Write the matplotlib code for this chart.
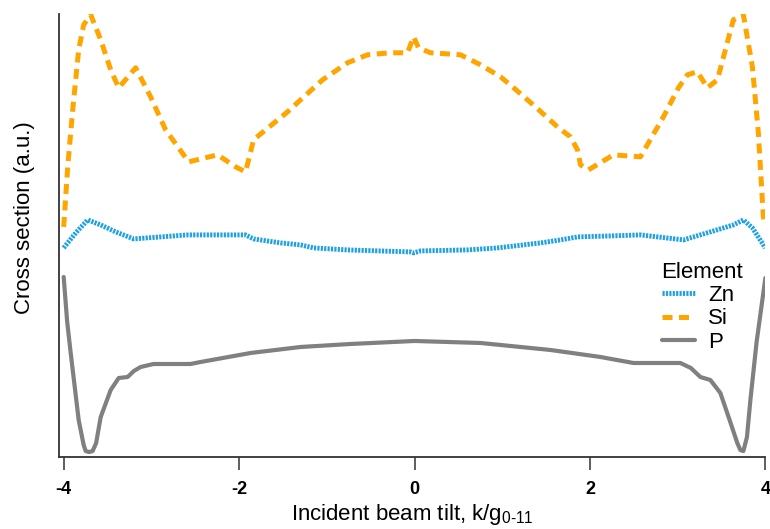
import matplotlib
matplotlib.use("Agg")
import matplotlib.pyplot as plt

plt.rcParams['font.family'] = ['Liberation Sans', 'DejaVu Sans']
plt.rcParams['mathtext.default'] = 'regular'

# Si (dashed orange)
si_k = [-4.00, -3.954, -3.897, -3.829, -3.772, -3.692, -3.578, -3.464, -3.373, -3.179,
        -3.009, -2.838, -2.575, -2.245, -2.040, -1.926, -1.835, -1.698, -1.447, -1.299,
        -1.048, -0.764, -0.536, -0.274, -0.080, -0.011, 0.046, 0.182, 0.524, 0.752,
        0.980, 1.117, 1.379, 1.641, 1.778, 1.858, 1.892, 1.983, 2.268, 2.575,
        2.838, 3.009, 3.111, 3.225, 3.339, 3.453, 3.635, 3.749, 3.852, 3.920, 3.977, 4.00]
si_y = [230, 290, 347, 407, 432, 442, 417, 387, 369, 389,
        360, 327, 295, 302, 290, 285, 317, 327, 345, 357,
        377, 394, 402, 404, 404, 420, 409, 404, 402, 392,
        380, 370, 350, 329, 320, 307, 292, 287, 302, 300,
        340, 369, 382, 385, 369, 377, 437, 442, 390, 324, 240, 232]

# Zn (dotted blue)
zn_k = [-4.00, -3.863, -3.726, -3.578, -3.407, -3.202, -2.895, -2.587, -2.268, -1.926,
        -1.835, -1.527, -1.299, -1.151, -0.764, -0.046, -0.011, 0.068, 0.604, 0.946,
        1.436, 1.664, 1.858, 2.234, 2.575, 3.066, 3.373, 3.635, 3.749, 3.852, 4.00]
zn_y = [209, 224, 237, 232, 225, 218, 220, 222, 222, 222,
        218, 214, 212, 209, 207, 205, 204, 206, 207, 209,
        214, 217, 220, 221, 222, 217, 225, 232, 237, 229, 209]

# P (solid grey)
p_k = [-4.00, -3.960, -3.920, -3.829, -3.772, -3.749, -3.710, -3.670, -3.630, -3.578,
       -3.464, -3.373, -3.271, -3.200, -3.123, -2.975, -2.553, -2.439, -1.869, -1.299,
       -0.729, 0.000, 0.752, 1.550, 2.120, 2.496, 3.031, 3.150, 3.259, 3.373, 3.487,
       3.600, 3.680, 3.715, 3.749, 3.790, 3.829, 3.900, 4.00]
p_y = [180, 135, 104, 37, 12, 6, 5, 6, 14, 40,
       67, 79, 80, 86, 90, 93, 93, 95, 104, 110,
       113, 116, 114, 107, 100, 94, 94, 89, 80, 77, 64,
       35, 14, 7, 6, 20, 57, 115, 179]

xticks = [-4, -2, 0, 2, 4]

fig = plt.figure(figsize=(7.7, 5.29), dpi=100)
ax = fig.add_axes([0.077, 0.136, 0.917, 0.838])

ax.plot(zn_k, zn_y, color='#1DA1E4', lw=3.5, dashes=(0.45, 0.25), label='Zn')
ax.plot(si_k, si_y, color='#FFA500', lw=3.6, dashes=(2.0, 1.3), label='Si')
ax.plot(p_k, p_y, color='#808080', lw=3.0, label='P',
        solid_capstyle='round', solid_joinstyle='round')

ax.set_xlim(-4.05, 4.0)
ax.set_ylim(0, 443)
ax.set_xticks(xticks)
ax.set_xticklabels([str(t) for t in xticks], fontsize=13, fontweight='bold')
ax.set_yticks([])
ax.tick_params(axis='x', length=9, width=1.1, color='#333333', pad=8)
for s in ['top', 'right']:
    ax.spines[s].set_visible(False)
for s in ['left', 'bottom']:
    ax.spines[s].set_linewidth(1.3)
    ax.spines[s].set_color('#333333')

ax.set_xlabel('Incident beam tilt, k/g$_{0\u201011}$', fontsize=16, labelpad=3)
ax.set_ylabel('Cross section (a.u.)', fontsize=16)
ax.yaxis.set_label_coords(-0.034, 0.54)

leg = ax.legend(title='Element', loc='upper left', bbox_to_anchor=(0.853, 0.44),
                frameon=False, fontsize=16, title_fontsize=16, handlelength=1.5,
                handletextpad=0.6, labelspacing=0.1, borderpad=0, borderaxespad=0)
leg._legend_box.align = 'left'

fig.savefig('out.png', dpi=100)
